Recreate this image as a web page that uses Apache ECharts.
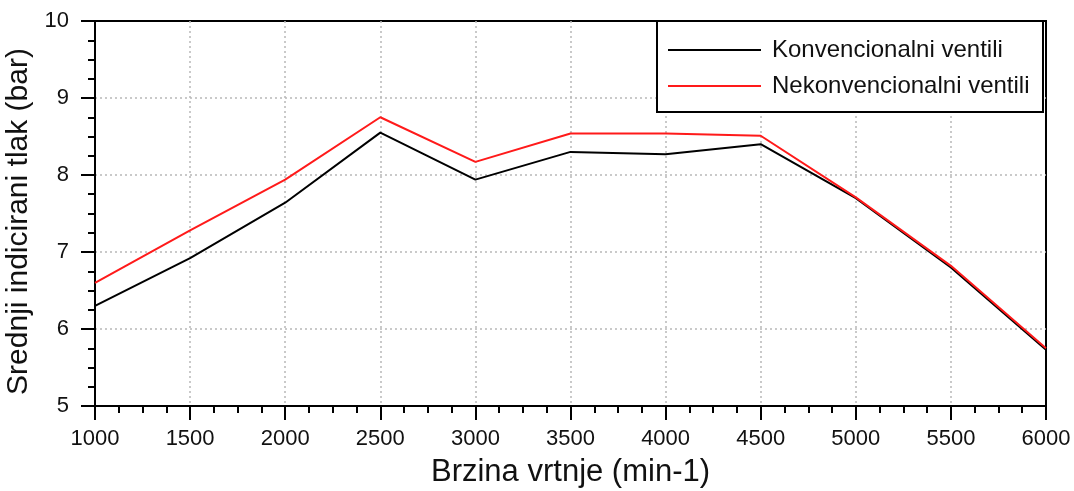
<!DOCTYPE html>
<html>
<head>
<meta charset="utf-8">
<script src="https://cdn.jsdelivr.net/npm/echarts@6/dist/echarts.min.js"></script>
<style>
  html, body { margin: 0; padding: 0; background: #fff; }
  #chart { width: 1074px; height: 491px; }
</style>
</head>
<body>
<div id="chart"></div>
<script>
// Engine speed (min-1) and mean indicated pressure (bar)
const speeds = [1000, 1500, 2000, 2500, 3000, 3500, 4000, 4500, 5000, 5500, 6000];
const conventional = [6.30, 6.92, 7.64, 8.55, 7.94, 8.30, 8.27, 8.40, 7.70, 6.80, 5.73];
const unconventional = [6.60, 7.28, 7.94, 8.75, 8.17, 8.54, 8.54, 8.51, 7.71, 6.82, 5.75];
const seriesNames = ['Konvencionalni ventili', 'Nekonvencionalni ventili'];
const xTitle = 'Brzina vrtnje (min-1)';
const yTitle = 'Srednji indicirani tlak (bar)';

const FONT = '"Liberation Sans", Arial, sans-serif';
const pairs = (vals) => speeds.map((s, i) => [s, vals[i]]);

const chart = echarts.init(document.getElementById('chart'), null, { renderer: 'canvas' });

const axisCommon = {
  type: 'value',
  axisLine: { show: true, lineStyle: { color: '#000', width: 2 } },
  axisTick: { show: true, inside: false, length: 14, lineStyle: { color: '#000', width: 2 } },
  minorTick: { show: true, splitNumber: 4, length: 7, lineStyle: { color: '#000', width: 2 } },
  splitLine: { show: true, showMinLine: false, showMaxLine: false,
               lineStyle: { color: '#b8b8b8', type: [2, 3], width: 1.5 } },
  axisLabel: { color: '#111', fontFamily: FONT, fontSize: 22, formatter: (v) => String(v) },
  nameTextStyle: { color: '#111', fontFamily: FONT, fontSize: 30 }
};

chart.setOption({
  animation: false,
  backgroundColor: '#fff',
  grid: {
    left: 95, right: 28, top: 21, bottom: 85,
    outerBoundsMode: 'none', containLabel: false,
    show: true, borderColor: '#000', borderWidth: 2, backgroundColor: 'transparent'
  },
  xAxis: Object.assign({}, axisCommon, {
    min: 1000, max: 6000, interval: 500,
    name: xTitle, nameLocation: 'middle', nameGap: 51,
    nameTextStyle: Object.assign({}, axisCommon.nameTextStyle, { fontSize: 31 }),
    axisLabel: Object.assign({}, axisCommon.axisLabel, { margin: 22 })
  }),
  yAxis: Object.assign({}, axisCommon, {
    min: 5, max: 10, interval: 1,
    name: yTitle, nameLocation: 'middle', nameGap: 54,
    nameTextStyle: Object.assign({}, axisCommon.nameTextStyle, { padding: [0, 16, 0, 0] }),
    axisLabel: Object.assign({}, axisCommon.axisLabel, { margin: 26 })
  }),
  graphic: [{
    type: 'rect',
    shape: { x: 657, y: 21, width: 386, height: 91 },
    style: { fill: '#fff', stroke: '#000', lineWidth: 2 },
    z: 5
  }],
  legend: {
    orient: 'vertical',
    left: 668, top: 37,
    icon: 'rect',
    itemWidth: 93, itemHeight: 2,
    itemGap: 10,
    padding: 0,
    z: 10,
    textStyle: { color: '#111', fontFamily: FONT, fontSize: 24, lineHeight: 26, padding: [0, 0, 0, 6] },
    data: seriesNames
  },
  series: [
    {
      name: seriesNames[0], type: 'line', data: pairs(conventional),
      showSymbol: false, symbol: 'none',
      lineStyle: { color: '#000', width: 2 }, itemStyle: { color: '#000' }
    },
    {
      name: seriesNames[1], type: 'line', data: pairs(unconventional),
      showSymbol: false, symbol: 'none',
      lineStyle: { color: '#ff1a1a', width: 2 }, itemStyle: { color: '#ff1a1a' }
    }
  ]
});
</script>
</body>
</html>
